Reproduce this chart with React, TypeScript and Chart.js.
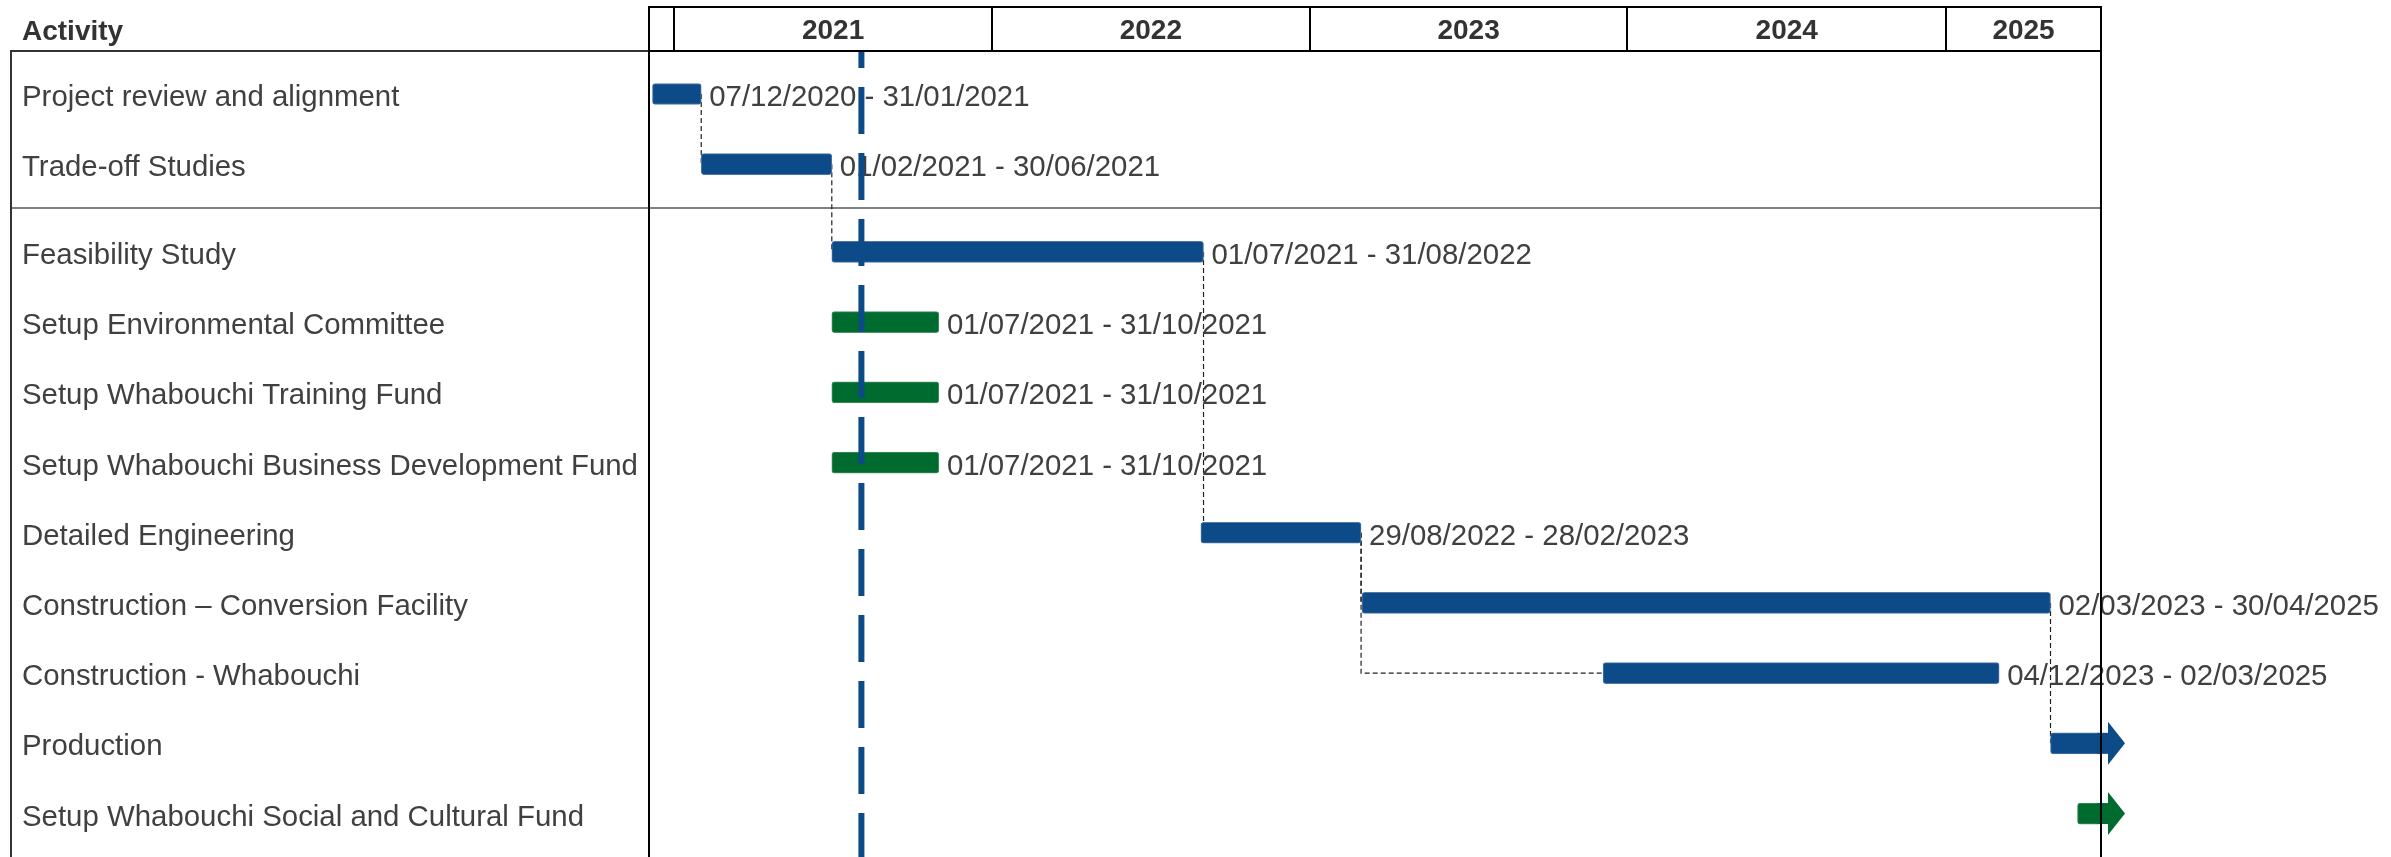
import { useEffect, useRef } from "react";
import { Chart, registerables, Plugin } from "chart.js";

Chart.register(...registerables);

// rows, top to bottom
const activities = [
  "Project review and alignment",
  "Trade-off Studies",
  "Feasibility Study",
  "Setup Environmental Committee",
  "Setup Whabouchi Training Fund",
  "Setup Whabouchi Business Development Fund",
  "Detailed Engineering",
  "Construction – Conversion Facility",
  "Construction - Whabouchi",
  "Production",
  "Setup Whabouchi Social and Cultural Fund",
];
// 0 = completed block above the grey separator, 1 = the rest
const sections = [0, 0, 1, 1, 1, 1, 1, 1, 1, 1, 1];
const startDates = [
  "07/12/2020", "01/02/2021", "01/07/2021", "01/07/2021", "01/07/2021", "01/07/2021",
  "29/08/2022", "02/03/2023", "04/12/2023", "01/05/2025", "01/06/2025",
];
// empty = still running past the end of the timeline (drawn as an arrow)
const endDates = [
  "31/01/2021", "30/06/2021", "31/08/2022", "31/10/2021", "31/10/2021", "31/10/2021",
  "28/02/2023", "30/04/2025", "02/03/2025", "", "",
];
const barGroups = ["blue", "blue", "blue", "green", "green", "green", "blue", "blue", "blue", "blue", "green"];
// [predecessor, successor]
const dependencies = [[0, 1], [1, 2], [2, 6], [6, 7], [6, 8], [7, 9]];
const yearLabels = ["2021", "2022", "2023", "2024", "2025"];
const todayDate = "04/08/2021";
const axisStart = "03/12/2020";
const axisEnd = "28/06/2025";

const BLUE = "#0c4a88";
const GREEN = "#006b2e";
const TEXT = "#404040";
const FONT = "'Liberation Sans', Arial, Helvetica, sans-serif";
const TEXT_SIZE = 29.4;

const LABEL_X = 22;
const TIMELINE_LEFT = 649;
const TABLE_LEFT = 11;

const toDay = (s: string) => {
  const [d, m, y] = s.split("/").map(Number);
  return Date.UTC(y, m - 1, d) / 86400000;
};

const xMin = toDay(axisStart);
const xMax = toDay(axisEnd);
const yMin = -0.6125;
const yMax = 10.869;
const rowPos = activities.map((_, i) => i + sections[i] * 0.25);
const taskStart = startDates.map(toDay);
const taskEnd = endDates.map((e) => (e ? toDay(e) + 1 : xMax));
const yearStarts = yearLabels.map((y) => toDay(`01/01/${y}`));
const yearMids = yearLabels.map((y, i) => {
  const a = Math.max(yearStarts[i], xMin);
  const b = Math.min(toDay(`01/01/${Number(y) + 1}`), xMax);
  return (a + b) / 2;
});

const ganttDecor: Plugin = {
  id: "ganttDecor",
  beforeDatasetsDraw(chart) {
    const { ctx, chartArea, scales } = chart;
    ctx.save();
    ctx.strokeStyle = "#808080";
    ctx.lineWidth = 2;
    for (let i = 1; i < sections.length; i++) {
      if (sections[i] === sections[i - 1]) continue;
      const y = Math.round(scales.y.getPixelForValue((rowPos[i - 1] + rowPos[i]) / 2));
      ctx.beginPath();
      ctx.moveTo(TABLE_LEFT, y);
      ctx.lineTo(chartArea.right, y);
      ctx.stroke();
    }
    ctx.restore();
  },
  afterDatasetDraw(chart, args: any) {
    const ds: any = chart.data.datasets[args.index];
    if (ds.type !== "bar") return;
    const { ctx, chartArea } = chart;
    ctx.save();
    args.meta.data.forEach((bar: any, j: number) => {
      const task = ds.data[j].task;
      const { x, y, height } = bar.getProps(["x", "y", "height"], true);
      if (!endDates[task]) {
        // running on: extend past the frame with an arrow head
        const r = chartArea.right;
        ctx.fillStyle = ds.backgroundColor;
        ctx.fillRect(r - 4, y - height / 2, 11, height);
        ctx.beginPath();
        ctx.moveTo(r + 7, y - 21.5);
        ctx.lineTo(r + 24, y);
        ctx.lineTo(r + 7, y + 21.5);
        ctx.closePath();
        ctx.fill();
      } else {
        ctx.fillStyle = TEXT;
        ctx.font = `${TEXT_SIZE}px ${FONT}`;
        ctx.textAlign = "left";
        ctx.textBaseline = "middle";
        ctx.fillText(`${startDates[task]} - ${endDates[task]}`, x + 8, y + 4);
      }
    });
    ctx.restore();
  },
  afterDraw(chart) {
    const { ctx, chartArea, scales } = chart;
    const xs = scales.x;
    const headTop = xs.top;
    const headBottom = chartArea.top;
    const H = chart.height;
    ctx.save();
    // activity column frame
    ctx.strokeStyle = "#333333";
    ctx.lineWidth = 2;
    ctx.beginPath();
    ctx.moveTo(TABLE_LEFT, H);
    ctx.lineTo(TABLE_LEFT, headBottom);
    ctx.lineTo(chartArea.left, headBottom);
    ctx.stroke();
    // timeline frame + header cells
    ctx.strokeStyle = "#000000";
    ctx.beginPath();
    ctx.moveTo(chartArea.left, H);
    ctx.lineTo(chartArea.left, headTop);
    ctx.lineTo(chartArea.right, headTop);
    ctx.lineTo(chartArea.right, H);
    ctx.moveTo(chartArea.left, headBottom);
    ctx.lineTo(chartArea.right, headBottom);
    yearStarts.forEach((d) => {
      if (d <= xMin || d >= xMax) return;
      const px = Math.round(xs.getPixelForValue(d));
      ctx.moveTo(px, headTop);
      ctx.lineTo(px, headBottom);
    });
    ctx.stroke();
    ctx.fillStyle = "#333333";
    ctx.font = `bold 28px ${FONT}`;
    ctx.textAlign = "left";
    ctx.textBaseline = "middle";
    ctx.fillText("Activity", LABEL_X, (headTop + headBottom) / 2 + 3);
    ctx.restore();
  },
};

export default function App() {
  const canvasRef = useRef<HTMLCanvasElement>(null);
  const chartRef = useRef<Chart | null>(null);

  useEffect(() => {
    if (!canvasRef.current) return;
    if (chartRef.current) chartRef.current.destroy();

    const barSet = (group: string, color: string, border: string) => ({
      type: "bar" as const,
      label: group,
      indexAxis: "y" as const,
      grouped: false,
      order: 2,
      data: activities
        .map((_, i) => i)
        .filter((i) => barGroups[i] === group)
        .map((i) => ({ x: [taskStart[i], taskEnd[i]], y: rowPos[i], task: i })),
      backgroundColor: color,
      borderColor: border,
      borderWidth: 1,
      borderSkipped: false,
      borderRadius: 3,
      barThickness: 21,
    });

    const depSets = dependencies.map(([p, s]) => ({
      type: "line" as const,
      label: `dep ${p}-${s}`,
      order: 3,
      data: [
        { x: taskEnd[p], y: rowPos[p] },
        { x: taskEnd[p], y: rowPos[s] },
        { x: taskStart[s], y: rowPos[s] },
      ],
      borderColor: "#222222",
      borderWidth: 1.2,
      borderDash: [5, 3],
      pointRadius: 0,
      fill: false,
      tension: 0,
    }));

    const todaySet = {
      type: "line" as const,
      label: "today",
      order: 0,
      data: [
        { x: toDay(todayDate), y: yMin },
        { x: toDay(todayDate), y: yMax },
      ],
      borderColor: BLUE,
      borderWidth: 6,
      borderDash: [47, 19],
      borderDashOffset: 30,
      borderCapStyle: "butt" as const,
      pointRadius: 0,
      fill: false,
    };

    chartRef.current = new Chart(canvasRef.current, {
      type: "bar",
      data: {
        datasets: [
          ...depSets,
          barSet("blue", BLUE, "#4f79a8"),
          barSet("green", GREEN, "#4c9068"),
          todaySet,
        ] as any,
      },
      options: {
        animation: false,
        responsive: true,
        maintainAspectRatio: false,
        events: [],
        layout: { padding: { left: LABEL_X, top: 7, right: 290, bottom: 0 } },
        plugins: { legend: { display: false }, tooltip: { enabled: false } },
        scales: {
          x: {
            type: "linear",
            position: "top",
            min: xMin,
            max: xMax,
            offset: false,
            beginAtZero: false,
            grid: { display: false, drawTicks: false, offset: false },
            border: { display: false },
            afterBuildTicks: (scale: any) => {
              scale.ticks = yearMids.map((v) => ({ value: v }));
            },
            afterFit: (scale: any) => {
              scale.height = 44;
              scale.paddingLeft = 0;
              scale.paddingRight = 0;
            },
            ticks: {
              autoSkip: false,
              maxRotation: 0,
              padding: 3,
              color: "#333333",
              font: { family: FONT, size: 28, weight: "bold" },
              callback: (_v: any, i: number) => yearLabels[i],
            },
          },
          y: {
            type: "linear",
            reverse: true,
            min: yMin,
            max: yMax,
            offset: false,
            beginAtZero: false,
            grid: { display: false, drawTicks: false, offset: false },
            border: { display: false },
            afterBuildTicks: (scale: any) => {
              scale.ticks = rowPos.map((v) => ({ value: v }));
            },
            afterFit: (scale: any) => {
              scale.width = TIMELINE_LEFT - LABEL_X;
              scale.paddingTop = 0;
              scale.paddingBottom = 0;
            },
            ticks: {
              autoSkip: false,
              crossAlign: "far",
              padding: 0,
              labelOffset: 4,
              color: TEXT,
              font: { family: FONT, size: TEXT_SIZE },
              callback: (_v: any, i: number) => activities[i],
            },
          },
        },
      },
      plugins: [ganttDecor],
    });

    return () => {
      chartRef.current?.destroy();
      chartRef.current = null;
    };
  }, []);

  return (
    <div style={{ position: "absolute", left: 0, top: 0, width: 2391, height: 857, background: "#fff" }}>
      <canvas ref={canvasRef} />
    </div>
  );
}
